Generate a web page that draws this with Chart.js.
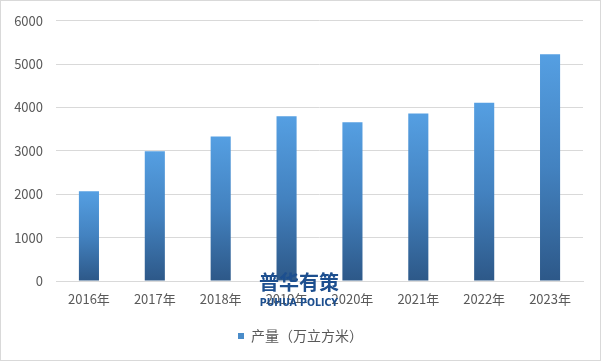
<!DOCTYPE html>
<html>
<head>
<meta charset="utf-8">
<script src="https://cdn.jsdelivr.net/npm/chart.js@4.4.1/dist/chart.umd.min.js"></script>
<style>
html,body{margin:0;padding:0;background:#fff;}
#wrap{position:relative;width:601px;height:361px;}
canvas{display:block;}
#wm{position:absolute;left:255px;top:272px;width:88px;text-align:center;color:#1d4f8f;font-family:"Noto Sans CJK SC",sans-serif;font-weight:bold;line-height:1;pointer-events:none;white-space:nowrap;}
#wm .cn{font-size:20px;}
#wm .en{font-family:"Liberation Sans Narrow","DejaVu Sans Condensed",sans-serif;font-size:11px;margin-top:5px;transform:scaleX(0.95);}
</style>
</head>
<body>
<div id="wrap">
<canvas id="c" width="601" height="361"></canvas>
<div id="wm"><div class="cn">普华有策</div><div class="en">PUHUA POLICY</div></div>
</div>
<script>
const categories = ["2016年","2017年","2018年","2019年","2020年","2021年","2022年","2023年"];
const seriesName = "产量（万立方米）";
const production = [2070, 2990, 3330, 3800, 3660, 3860, 4110, 5230];
const yTicks = [0, 1000, 2000, 3000, 4000, 5000, 6000];

const FONT = '"Noto Sans CJK SC", "Noto Sans", sans-serif';
const TEXT = '#595959';

function barFill(context){
  const chart = context.chart;
  const {ctx, chartArea, scales} = chart;
  if (!chartArea || context.type !== 'data') return '#4a8fd0';
  const v = context.raw;
  const yTop = scales.y.getPixelForValue(v);
  const yBase = scales.y.getPixelForValue(0);
  const g = ctx.createLinearGradient(0, yTop, 0, yBase);
  g.addColorStop(0, '#559fe2');
  g.addColorStop(0.5, '#4382c0');
  g.addColorStop(1, '#2d5888');
  return g;
}

const borderPlugin = {
  id: 'frame',
  afterDraw(chart){
    const ctx = chart.ctx;
    ctx.save();
    ctx.strokeStyle = '#d9d9d9';
    ctx.lineWidth = 1;
    ctx.strokeRect(0.5, 0.5, chart.width - 1, chart.height - 1);
    ctx.restore();
  }
};

new Chart(document.getElementById('c'), {
  type: 'bar',
  data: {
    labels: categories,
    datasets: [{
      label: seriesName,
      data: production,
      backgroundColor: barFill,
      borderWidth: 0,
      categoryPercentage: 1,
      barPercentage: 0.305
    }]
  },
  options: {
    responsive: false,
    animation: false,
    devicePixelRatio: 1,
    layout: { padding: { left: 0, right: 0, top: 8, bottom: 8 } },
    plugins: {
      legend: {
        position: 'bottom',
        labels: {
          color: TEXT,
          font: { family: FONT, size: 14 },
          boxWidth: 6, boxHeight: 6,
          padding: 0,
          generateLabels(chart){
            return [{ text: seriesName, fillStyle: '#4a8cc9', strokeStyle: '#4a8cc9', lineWidth: 0, fontColor: TEXT, datasetIndex: 0, hidden: false }];
          }
        }
      },
      tooltip: { enabled: false }
    },
    scales: {
      x: {
        grid: { display: false, drawTicks: false },
        border: { display: true, color: '#d9d9d9' },
        ticks: { color: TEXT, font: { family: FONT, size: 13 }, padding: 10, maxRotation: 0 },
        afterFit(s){ s.height = 48; }
      },
      y: {
        min: 0, max: 6000,
        afterBuildTicks(s){ s.ticks = yTicks.map(v => ({ value: v })); },
        grid: { color: '#d9d9d9', drawTicks: false },
        border: { display: false },
        ticks: { color: TEXT, font: { family: FONT, size: 13 }, padding: 13, callback: v => String(v) },
        afterFit(s){ s.width = 56; }
      },
      yRight: {
        position: 'right',
        display: true,
        min: 0, max: 6000,
        grid: { display: false, drawTicks: false },
        border: { display: false },
        ticks: { display: false },
        afterFit(s){ s.width = 18; }
      }
    }
  },
  plugins: [borderPlugin]
});
</script>
</body>
</html>
